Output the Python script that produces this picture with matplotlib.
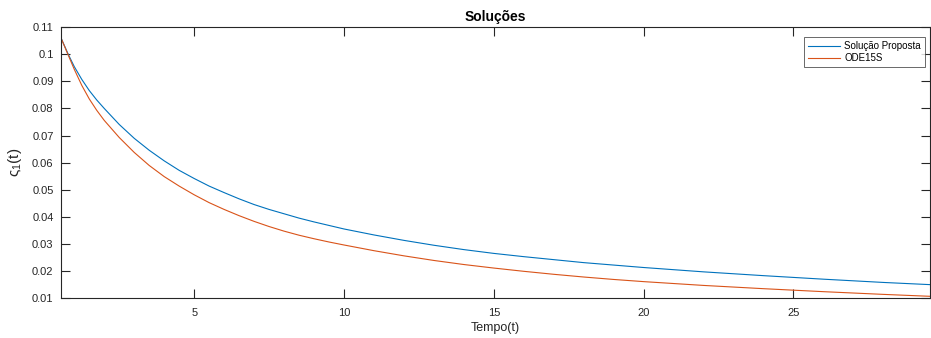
import matplotlib.pyplot as plt

# values
t_values = [0.54, 0.8, 1.0, 1.25, 1.5, 1.75, 2.0, 2.5, 3.0, 3.5, 4.0, 4.5,
            5, 5.5, 6, 6.5, 7, 7.5, 8, 8.5, 9, 9.5,
            10, 11, 12, 13, 14, 15, 16, 17, 18, 19, 20, 22, 24, 26, 28, 29.54]

proposta = [0.1064, 0.0999, 0.0954, 0.0907, 0.0866, 0.0831, 0.0800, 0.0741, 0.0690, 0.0646,
            0.0607, 0.0572,
            0.0542, 0.0514, 0.0490, 0.0467, 0.0446, 0.0428, 0.0412, 0.0396, 0.0382, 0.0369,
            0.0356, 0.0334, 0.0314, 0.0296, 0.0280, 0.0266, 0.0254, 0.0243, 0.0232, 0.0223,
            0.0214, 0.0198, 0.0184, 0.0171, 0.0159, 0.0151]

ode15s = [0.1064, 0.0996, 0.0944, 0.0885, 0.0835, 0.0793, 0.0756, 0.0693, 0.0638, 0.0590,
          0.0549, 0.0514,
          0.0482, 0.0453, 0.0428, 0.0405, 0.0384, 0.0365, 0.0348, 0.0333, 0.0320, 0.0308,
          0.0297, 0.0276, 0.0257, 0.0240, 0.0225, 0.0212, 0.0200, 0.0189, 0.0179, 0.0170,
          0.0162, 0.0148, 0.0136, 0.0125, 0.0115, 0.0108]

x_ticks = [5, 10, 15, 20, 25]
y_ticks = [0.01, 0.02, 0.03, 0.04, 0.05, 0.06, 0.07, 0.08, 0.09, 0.1, 0.11]
y_tick_labels = ["0.01", "0.02", "0.03", "0.04", "0.05", "0.06", "0.07", "0.08", "0.09", "0.1", "0.11"]


def main() -> None:
    plt.rcParams["font.family"] = ["Liberation Sans", "DejaVu Sans"]
    plt.rcParams["mathtext.fontset"] = "custom"
    plt.rcParams["mathtext.rm"] = "Liberation Sans"

    fig = plt.figure(figsize=(9.31, 3.38), dpi=100)
    ax = fig.add_axes([0.065, 0.117, 0.9334, 0.803])

    ax.plot(t_values, proposta, color="#0072BD", linewidth=0.8, label="Solução Proposta")
    ax.plot(t_values, ode15s, color="#D95319", linewidth=0.8, label="ODE15S")

    ax.set_xlim(t_values[0], t_values[-1])
    ax.set_ylim(0.01, 0.11)
    ax.set_xticks(x_ticks)
    ax.set_yticks(y_ticks)
    ax.set_yticklabels(y_tick_labels)

    axis_color = "#262626"
    for spine in ax.spines.values():
        spine.set_color(axis_color)
        spine.set_linewidth(0.8)
    ax.tick_params(direction="in", length=6.5, width=0.8, colors=axis_color,
                   labelsize=8, top=True, right=True)
    ax.tick_params(axis="x", pad=7)
    ax.tick_params(axis="y", pad=5)

    ax.set_title("Soluções", fontsize=10, fontweight="bold", pad=4)
    ax.set_xlabel("Tempo(t)", fontsize=9, color=axis_color, labelpad=3)
    ax.set_ylabel("ς$_{\\rm 1}$(t)", fontsize=11, color=axis_color, labelpad=6)

    leg = ax.legend(loc="upper right", fontsize=7, frameon=True, fancybox=False,
                    handlelength=3.3, handletextpad=0.5, borderpad=0.4,
                    labelspacing=0.2, borderaxespad=0,
                    bbox_to_anchor=(0.9948, 0.963))
    leg.get_frame().set_edgecolor(axis_color)
    leg.get_frame().set_linewidth(0.6)

    fig.savefig("out.png", dpi=100)
    plt.close(fig)


if __name__ == "__main__":
    main()
